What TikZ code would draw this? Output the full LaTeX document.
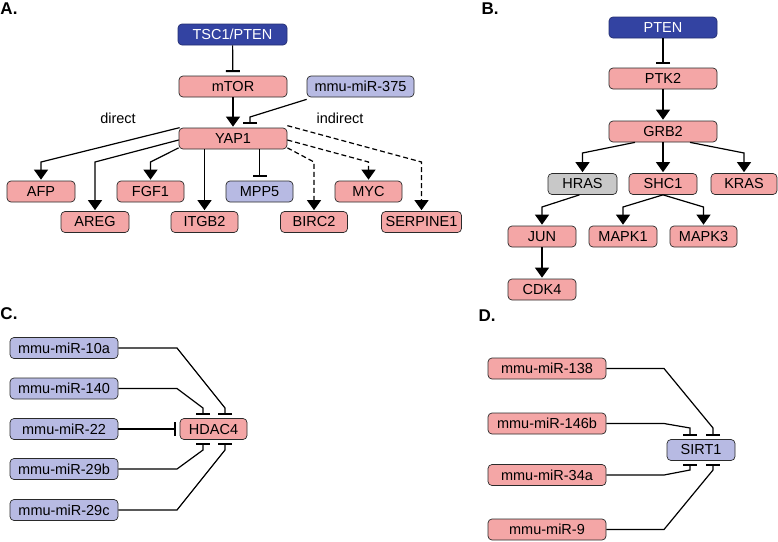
\documentclass[tikz,border=0pt]{standalone}
\usepackage{fontspec}
\setmainfont{Liberation Sans}
\usetikzlibrary{arrows.meta}
\definecolor{dblue}{HTML}{3343A2}
\definecolor{pinkf}{HTML}{F4A6A6}
\definecolor{lavf}{HTML}{B7BAE3}
\definecolor{grayf}{HTML}{C8C8C8}
\definecolor{edgec}{HTML}{2A2A2A}
\tikzset{
  gbox/.style={draw=edgec, rounded corners=4pt, line width=0.7pt, minimum height=21pt, inner sep=0pt, font=\fontsize{14.5}{15}\selectfont},
  pinkbox/.style={gbox, fill=pinkf},
  lavbox/.style={gbox, fill=lavf},
  graybox/.style={gbox, fill=grayf},
  bluebox/.style={gbox, fill=dblue, text=white, draw=dblue!70!black},
  act/.style={line width=1.2pt, -{Triangle[width=14pt,length=10pt]}, shorten >=1pt},
  inh/.style={line width=1.2pt, -{Bar[width=14pt,line width=2pt]}, shorten >=3.5pt},
  dsh/.style={act, dash pattern=on 5pt off 3pt},
  plabel/.style={font=\fontsize{17}{17}\selectfont\bfseries},
  tlabel/.style={font=\fontsize{14.5}{15}\selectfont}
}
\begin{document}
\begin{tikzpicture}[x=1pt,y=-1pt]
\useasboundingbox (0,0) rectangle (778,541);
% panel labels
\node[plabel] (la) at (9,9) {A.};
\node[plabel] (lb) at (490,9) {B.};
\node[plabel] (lc) at (9,314) {C.};
\node[plabel] (ld) at (487,316) {D.};
% ---------- A ----------
\node[bluebox, minimum width=109pt] (tsc) at (232.5,34.5) {TSC1/PTEN};
\node[pinkbox, minimum width=108pt] (mtor) at (233,86.5) {mTOR};
\node[lavbox, minimum width=107pt] (m375) at (360.5,86.5) {mmu-miR-375};
\node[pinkbox, minimum width=108pt] (yap) at (233,138.5) {YAP1};
\node[pinkbox, minimum width=68pt] (afp) at (41,191.5) {AFP};
\node[pinkbox, minimum width=68pt] (areg) at (95,222) {AREG};
\node[pinkbox, minimum width=67pt] (fgf) at (150.5,191.5) {FGF1};
\node[pinkbox, minimum width=67pt] (itgb) at (204.5,222) {ITGB2};
\node[lavbox, minimum width=67pt] (mpp) at (259.5,191.5) {MPP5};
\node[pinkbox, minimum width=67pt] (birc) at (314,222) {BIRC2};
\node[pinkbox, minimum width=67pt] (myc) at (368.5,191.5) {MYC};
\node[pinkbox, minimum width=80pt] (serp) at (421.5,222) {SERPINE1};
\node[tlabel] (tdir) at (118,118) {direct};
\node[tlabel] (tind) at (340,118) {indirect};
\coordinate (lvA) at (0,162);
\coordinate (c375) at (250,117);
\draw[inh] (tsc) -- (mtor);
\draw[act] (mtor) -- (yap);
\draw[inh] ([yshift=-2pt]m375.south west) -- (c375) -- (c375 |- yap.north);
\draw[act] ([xshift=1pt]yap.north west) -- (afp.north |- lvA) -- (afp.north);
\draw[act] ([yshift=-1.5pt]yap.west) -- (areg.north |- lvA) -- (areg.north);
\draw[act] ([yshift=1.5pt]yap.south west) -- (fgf.north |- lvA) -- (fgf.north);
\draw[act] (yap.south -| itgb.north) -- (itgb.north);
\draw[inh] (yap.south -| mpp.north) -- (mpp.north);
\draw[dsh] ([yshift=1.5pt]yap.south east) -- (birc.north |- lvA) -- (birc.north);
\draw[dsh] ([yshift=-1.5pt]yap.east) -- (myc.north |- lvA) -- (myc.north);
\draw[dsh] ([yshift=2pt]yap.north east) -- (serp.north |- lvA) -- (serp.north);
% ---------- B ----------
\node[bluebox, minimum width=108pt] (pten) at (663,27.5) {PTEN};
\node[pinkbox, minimum width=108pt] (ptk) at (663,78.5) {PTK2};
\node[pinkbox, minimum width=108pt] (grb) at (663,131.5) {GRB2};
\node[graybox, minimum width=69pt] (hras) at (582.5,184) {HRAS};
\node[pinkbox, minimum width=68pt] (shc) at (663,184) {SHC1};
\node[pinkbox, minimum width=66pt] (kras) at (744,184) {KRAS};
\node[pinkbox, minimum width=68pt] (jun) at (542,236.5) {JUN};
\node[pinkbox, minimum width=68pt] (mapka) at (623,236.5) {MAPK1};
\node[pinkbox, minimum width=67pt] (mapkb) at (703.5,236.5) {MAPK3};
\node[pinkbox, minimum width=68pt] (cdk) at (542,289.5) {CDK4};
\coordinate (lvB1) at (0,153);
\coordinate (lvB2) at (0,207);
\draw[inh] (pten) -- (ptk);
\draw[act] (ptk) -- (grb);
\draw[act] ([xshift=-28pt]grb.south) -- (hras.north |- lvB1) -- (hras.north);
\draw[act] (grb) -- (shc);
\draw[act] ([xshift=27pt]grb.south) -- (kras.north |- lvB1) -- (kras.north);
\draw[act] ([xshift=-3pt]hras.south) -- (jun.north |- lvB2) -- (jun.north);
\draw[act] (shc.south) -- (mapka.north |- lvB2) -- (mapka.north);
\draw[act] (shc.south) -- (mapkb.north |- lvB2) -- (mapkb.north);
\draw[act] (jun) -- (cdk);
% ---------- C ----------
\node[lavbox, minimum width=108pt] (ca) at (64,348) {mmu-miR-10a};
\node[lavbox, minimum width=108pt] (cb) at (64,388.5) {mmu-miR-140};
\node[lavbox, minimum width=108pt] (cc) at (64,429) {mmu-miR-22};
\node[lavbox, minimum width=108pt] (cd) at (64,469) {mmu-miR-29b};
\node[lavbox, minimum width=108pt] (ce) at (64,510) {mmu-miR-29c};
\node[pinkbox, minimum width=67pt] (hdac) at (213.5,429) {HDAC4};
\coordinate (xc1) at (177,0);
\coordinate (pc1) at (225,408);
\coordinate (pc2) at (203,408);
\coordinate (pc3) at (203,450);
\coordinate (pc4) at (225,450);
\draw[inh] (ca.east) -- (xc1 |- ca.east) -- (pc1) -- (pc1 |- hdac.north);
\draw[inh] (cb.east) -- (xc1 |- cb.east) -- (pc2) -- (pc2 |- hdac.north);
\draw[inh] (cc.east) -- (hdac.west);
\draw[inh] (cd.east) -- (xc1 |- cd.east) -- (pc3) -- (pc3 |- hdac.south);
\draw[inh] (ce.east) -- (xc1 |- ce.east) -- (pc4) -- (pc4 |- hdac.south);
% ---------- D ----------
\node[pinkbox, minimum width=118pt] (da) at (547,368.5) {mmu-miR-138};
\node[pinkbox, minimum width=118pt] (db) at (547,423.5) {mmu-miR-146b};
\node[pinkbox, minimum width=118pt] (dc) at (547,475) {mmu-miR-34a};
\node[pinkbox, minimum width=118pt] (dd) at (547,529.5) {mmu-miR-9};
\node[lavbox, minimum width=68pt] (sirt) at (701,450) {SIRT1};
\coordinate (xd1) at (664,0);
\coordinate (pd1) at (713,428);
\coordinate (pd2) at (690,428);
\coordinate (pd3) at (690,470);
\coordinate (pd4) at (713,470);
\draw[inh] (da.east) -- (xd1 |- da.east) -- (pd1) -- (pd1 |- sirt.north);
\draw[inh] (db.east) -- (xd1 |- db.east) -- (pd2) -- (pd2 |- sirt.north);
\draw[inh] (dc.east) -- (xd1 |- dc.east) -- (pd3) -- (pd3 |- sirt.south);
\draw[inh] (dd.east) -- (xd1 |- dd.east) -- (pd4) -- (pd4 |- sirt.south);
\end{tikzpicture}
\end{document}
